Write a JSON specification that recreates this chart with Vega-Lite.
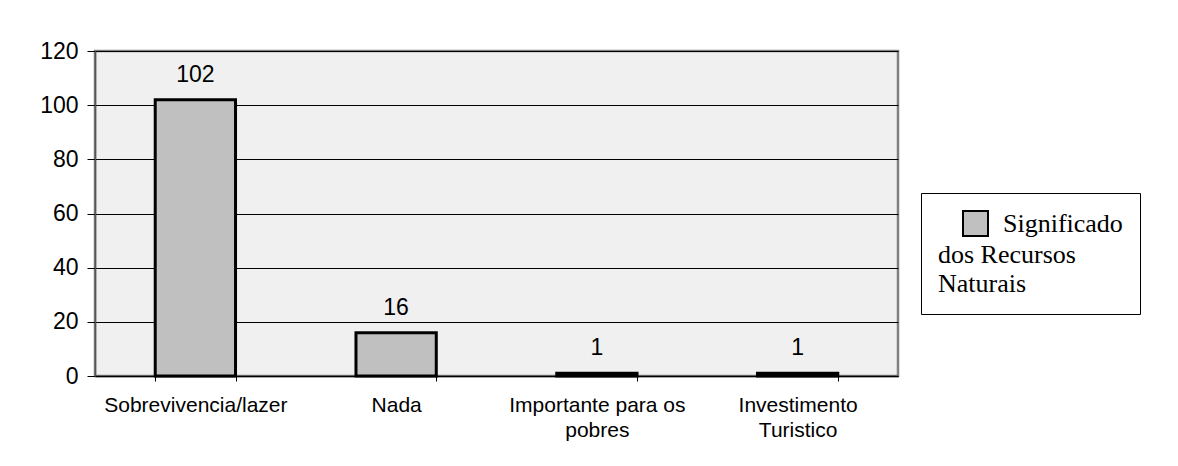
{
  "$schema": "https://vega.github.io/schema/vega-lite/v6.json",
  "autosize": {"type": "none"},
  "width": 803,
  "height": 325,
  "padding": {"left": 95, "top": 51, "right": 280, "bottom": 90},
  "background": "white",
  "data": {
    "values": [
      {"categoria": "Sobrevivencia/lazer", "valor": 102, "serie": "Significado"},
      {"categoria": "Nada", "valor": 16, "serie": "Significado"},
      {"categoria": "Importante para os pobres", "valor": 1, "serie": "Significado"},
      {"categoria": "Investimento Turistico", "valor": 1, "serie": "Significado"}
    ]
  },
  "encoding": {
    "x": {
      "field": "categoria",
      "type": "nominal",
      "sort": null,
      "scale": {"paddingInner": 0.6, "paddingOuter": 0.3},
      "axis": {
        "title": null,
        "labelAngle": 0,
        "labelFont": "Liberation Sans",
        "labelFontSize": 21,
        "labelColor": "black",
        "labelPadding": 13,
        "labelLineHeight": 25,
        "labelBaseline": "top",
        "labelLimit": 300,
        "labelExpr": "datum.label == 'Importante para os pobres' ? ['Importante para os', 'pobres'] : datum.label == 'Investimento Turistico' ? ['Investimento', 'Turistico'] : datum.label",
        "tickBand": "extent",
        "tickSize": 5,
        "tickColor": "black",
        "domainColor": "black",
        "domainWidth": 1.5,
        "grid": false
      }
    },
    "y": {
      "field": "valor",
      "type": "quantitative",
      "scale": {"domain": [0, 120], "nice": false},
      "axis": {
        "title": null,
        "values": [0, 20, 40, 60, 80, 100, 120],
        "labelFont": "Liberation Sans",
        "labelFontSize": 23,
        "labelColor": "black",
        "labelPadding": 9,
        "tickSize": 8,
        "tickColor": "black",
        "domainColor": "#555555",
        "domainWidth": 1.5,
        "grid": true,
        "gridColor": "black",
        "gridWidth": 1,
        "gridOpacity": 1
      }
    }
  },
  "layer": [
    {
      "mark": {"type": "bar", "stroke": "black", "strokeWidth": 3},
      "encoding": {
        "fill": {
          "field": "serie",
          "type": "nominal",
          "scale": {"range": ["#c0c0c0"]},
          "legend": {
            "orient": "none",
            "legendX": 826,
            "legendY": 142,
            "fillColor": "white",
            "strokeColor": "black",
            "padding": 17,
            "symbolType": "square",
            "symbolSize": 625,
            "symbolStrokeColor": "black",
            "symbolStrokeWidth": 2,
            "symbolOffset": 24,
            "labelFont": "Liberation Serif",
            "labelFontSize": 26,
            "labelColor": "black",
            "labelOffset": 14,
            "labelLimit": 300,
            "title": ["dos Recursos", "Naturais"],
            "titleOrient": "bottom",
            "titleFont": "Liberation Serif",
            "titleFontSize": 26,
            "titleFontWeight": "normal",
            "titleColor": "black",
            "titleLineHeight": 29,
            "titlePadding": 2,
            "titleLimit": 300
          }
        }
      }
    },
    {
      "mark": {
        "type": "text",
        "baseline": "alphabetic",
        "dy": -18,
        "font": "Liberation Sans",
        "fontSize": 23,
        "color": "black"
      },
      "encoding": {"text": {"field": "valor", "type": "quantitative"}}
    }
  ],
  "config": {
    "view": {"fill": "#f0f0f0", "stroke": "#808080", "strokeWidth": 2.5}
  }
}
